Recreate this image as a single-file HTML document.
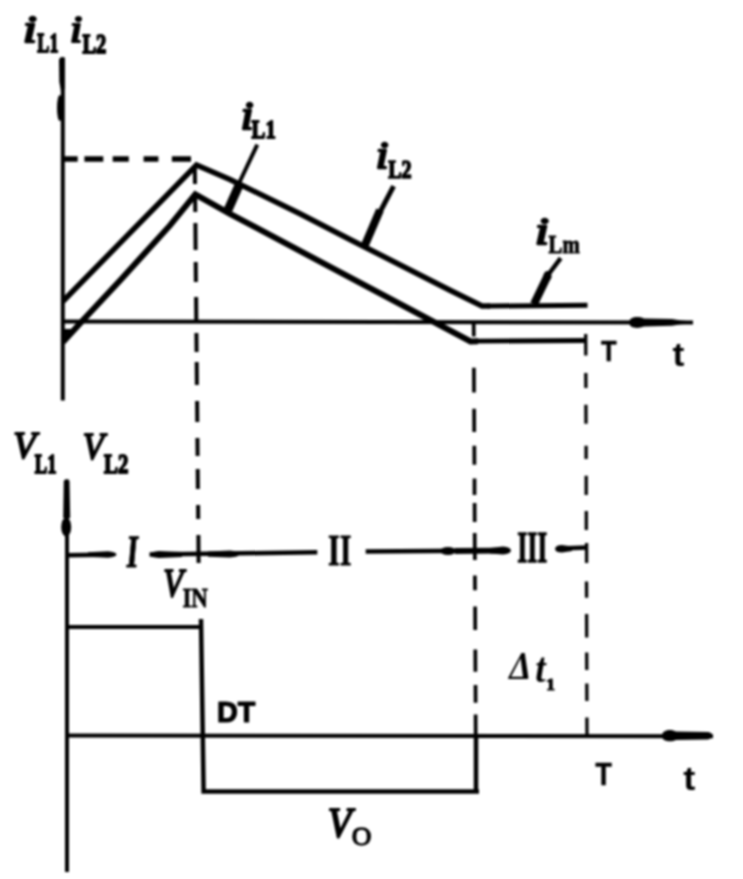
<!DOCTYPE html>
<html><head><meta charset="utf-8">
<style>
html,body{margin:0;padding:0;background:#fff;overflow:hidden;}
svg{display:block;filter:blur(0.8px);}
.s{font-family:"Liberation Serif",serif;}
.a{font-family:"Liberation Sans",sans-serif;}
</style></head>
<body>
<svg width="743" height="879" viewBox="0 0 743 879">
<rect width="743" height="879" fill="#fff"/>
<g stroke="#000" fill="none" stroke-linejoin="miter" stroke-linecap="butt">
  <!-- top axes -->
  <line x1="62.8" y1="57.5" x2="62.8" y2="400.5" stroke-width="4"/>
  <line x1="61" y1="321.5" x2="693" y2="322.5" stroke-width="4"/>
  <!-- dashed horizontal -->
  <path d="M64 159H77.7M84.4 159H103.3M112.7 159H128.8M143.6 159H158.4M171.9 159H191" stroke-width="5.5"/>
  <!-- iL2 upper -->
  <polyline points="62.7,301.5 196.5,165 230,179.5 300,213.8 350,239.5 450,290.3 482,306 490,305.9" stroke-width="5.5" stroke-linejoin="miter"/>
  <path d="M488 306L587.5 305.3" stroke-width="5"/>
  <!-- iL1 lower -->
  <polyline points="63,342 82,321.3 120.5,280 170,225.4 195.3,194.4 230,213.8 470.6,341.4 478,341.3" stroke-width="6" stroke-linejoin="miter"/>
  <path d="M476 341.2L586 340.5" stroke-width="4.8"/>
  <!-- pointers thin -->
  <line x1="257.3" y1="144.7" x2="239.6" y2="182" stroke-width="4"/>
  <line x1="393.6" y1="186.2" x2="380" y2="212" stroke-width="5"/>
  <line x1="560.7" y1="258.2" x2="548" y2="275" stroke-width="4.5"/>
  <!-- vertical dashed lines -->
  <path stroke-width="4" d="M194.8 168L195 184M195.1 197.0L195.3 212.0M195.4 223.0L195.6 250.0M195.7 262.0L195.9 282.0M196.1 297.0L196.3 320.0M196.4 333.0L196.6 352.0M196.7 362.0L196.9 385.0M197.1 401.0L197.3 422.0M197.4 438.0L197.6 456.0M197.7 469.0L197.9 489.0M198.1 505.0L198.2 519.0M198.4 535.0L198.6 563.0"/>
  <path stroke-width="3.7" d="M473.7 324.0L473.8 336.4M473.9 367.8L474.0 392.4M474.1 408.8L474.2 432.0M474.3 445.7L474.4 464.8M474.5 478.5L474.5 495.0M474.6 503.0L474.7 522.0M474.7 533.0L474.9 560.0M474.9 575.5L475.0 590.3M475.1 606.6L475.2 630.0M475.3 649.5L475.4 671.7M475.5 685.0L475.6 702.7M475.6 714.6L475.7 735.0"/>
  <path stroke-width="3.3" d="M585.7 334.0L585.8 355.5M585.8 373.0L585.9 388.0M585.9 404.7L586.0 423.8M586.1 445.7L586.1 459.0M586.2 475.7L586.2 495.0M586.3 511.0L586.3 530.0M586.6 543.0L586.6 563.0M586.5 581.4L586.6 597.7M586.6 614.0L586.7 637.6M586.7 652.4L586.8 670.0M586.8 683.5L586.9 701.0M586.9 717.5L587.0 735.0"/>
  <!-- bottom axes -->
  <line x1="67" y1="479.5" x2="67" y2="872" stroke-width="4"/>
  <line x1="66.5" y1="735.5" x2="713" y2="736.2" stroke-width="4"/>
  <!-- region line -->
  <path d="M67 555.3L100 554.8M149.6 554.6L317.3 552.3M365.7 551.5L500 550.6M560 548.5L587 547.5" stroke-width="4.5"/>
  <!-- VIN box -->
  <path d="M66.5 627H201.5" stroke-width="4"/>
  <path d="M201 619L203.6 791.5H479" stroke-width="4.5"/>
  <path d="M476 736V791.5" stroke-width="4.5"/>
</g>
<g fill="#000">
  <!-- axis tops -->
  <path d="M64 329 L71.5 329 L64 337 Z"/>
  <path d="M59 60 Q59.5 57 62.5 57 L64.8 58 L64.8 89 L61 91 L59.3 82 Z"/>
  <ellipse cx="59.8" cy="108" rx="2.8" ry="13"/>
  <path d="M63.8 481 Q64 479.5 66.5 479.5 Q69 479.5 69.5 481 L70.2 518 L63.2 518 Z"/>
  <ellipse cx="66.2" cy="527" rx="5" ry="9.5"/>
  <!-- axis arrowheads -->
  <path d="M629 322.5 C629.5 316.5 638 316 644 318.5 L672 319 L681 320.5 L693 321.5 L693 323.5 L681 324.2 L672 325.8 L644 326.5 C638 329 629.5 328.5 629 322.5 Z"/>
  <path d="M662 735 C663 729 672 729 676 731.5 L708 732 C714 733 714 738 708 739.5 L676 740 C672 742 663 742 662 737 Z"/>
  <!-- pointer thick parts -->
  <path d="M235.9 181.2 L244.1 184.8 L232.1 211.8 L223.9 208.2 Z"/>
  <path d="M376.3 208.4 L383.7 211.6 L368.7 246.6 L361.3 243.4 Z"/>
  <ellipse cx="547.5" cy="276" rx="4" ry="5"/>
  <path d="M544.4 273.3 L551.6 276.7 L537.6 305.7 L530.4 302.3 Z"/>
  <!-- region arrowheads -->
  <path d="M88 552.3 L108 551.3 Q116 552 116.5 554.5 Q116 557 108 557.7 L88 556.7 Z"/>
  <path d="M149.5 554.5 Q150.5 551.5 159 551 L182 552 L182 557 L159 558 Q150.5 557.5 149.5 554.5 Z"/>
  <path d="M208 551.5 L230 550.5 Q239 551 239.5 554 Q239 557 230 557.5 L208 556.7 Z"/>
  <ellipse cx="448" cy="551" rx="8" ry="4"/>
  <path d="M455 548 L500 547.8 L500 553.6 L455 554 Z"/>
  <path d="M490 548 L503 546.5 Q510.5 547 511 550.5 Q510.5 554 503 554.5 L490 553.5 Z"/>
  <path d="M555 549 Q555.5 545 562 545 L572 546.5 L572 551 L562 552.5 Q555.5 552.5 555 549Z"/>
</g>

<g fill="#000">
<text class="s" transform="matrix(0.4960 0 0 0.3803 23.11 41.86)" font-size="100" font-style="italic" stroke="#000" stroke-width="6" stroke-linejoin="round">i</text>
<text class="s" transform="matrix(0.1803 0 0 0.2630 37.36 52.15)" font-size="100" font-weight="bold" stroke="#000" stroke-width="7" stroke-linejoin="round">L1</text>
<text class="s" transform="matrix(0.4360 0 0 0.3746 70.09 42.18)" font-size="100" font-style="italic" stroke="#000" stroke-width="6" stroke-linejoin="round">i</text>
<text class="s" transform="matrix(0.2051 0 0 0.2658 82.41 52.54)" font-size="100" font-weight="bold" stroke="#000" stroke-width="7" stroke-linejoin="round">L2</text>
<text class="s" transform="matrix(0.4560 0 0 0.3986 240.73 128.80)" font-size="100" font-style="italic" stroke="#000" stroke-width="6" stroke-linejoin="round">i</text>
<text class="s" transform="matrix(0.2068 0 0 0.2575 251.61 138.37)" font-size="100" font-weight="bold" stroke="#000" stroke-width="7" stroke-linejoin="round">L1</text>
<text class="s" transform="matrix(0.4560 0 0 0.3789 375.73 168.16)" font-size="100" font-style="italic" stroke="#000" stroke-width="6" stroke-linejoin="round">i</text>
<text class="s" transform="matrix(0.2000 0 0 0.2438 388.20 177.72)" font-size="100" font-weight="bold" stroke="#000" stroke-width="7" stroke-linejoin="round">L2</text>
<text class="s" transform="matrix(0.5000 0 0 0.3859 535.00 243.94)" font-size="100" font-style="italic" stroke="#000" stroke-width="6" stroke-linejoin="round">i</text>
<text class="s" transform="matrix(0.2073 0 0 0.2449 548.60 252.71)" font-size="100" font-weight="bold" stroke="#000" stroke-width="4" stroke-linejoin="round">Lm</text>
<text class="s" transform="matrix(0.3686 0 0 0.3690 13.19 458.22)" font-size="100" font-style="italic" stroke="#000" stroke-width="5" stroke-linejoin="round">V</text>
<text class="s" transform="matrix(0.1863 0 0 0.2712 34.87 473.22)" font-size="100" font-weight="bold" stroke="#000" stroke-width="7" stroke-linejoin="round">L1</text>
<text class="s" transform="matrix(0.3457 0 0 0.3803 82.86 458.98)" font-size="100" font-style="italic" stroke="#000" stroke-width="5" stroke-linejoin="round">V</text>
<text class="s" transform="matrix(0.2085 0 0 0.2658 104.12 473.24)" font-size="100" font-weight="bold" stroke="#000" stroke-width="7" stroke-linejoin="round">L2</text>
<text class="s" transform="matrix(0.3229 0 0 0.4042 163.33 595.58)" font-size="100" font-style="italic" stroke="#000" stroke-width="5" stroke-linejoin="round">V</text>
<text class="s" transform="matrix(0.2294 0 0 0.2676 182.44 607.16)" font-size="100" font-weight="bold" stroke="#000" stroke-width="3" stroke-linejoin="round">IN</text>
<text class="s" transform="matrix(0.2977 0 0 0.4612 125.60 567.24) skewX(-8)" font-size="100" font-weight="bold" stroke="#000" stroke-width="2" stroke-linejoin="round">I</text>
<text class="s" transform="matrix(0.3014 0 0 0.4522 328.10 564.95)" font-size="100" font-weight="bold" stroke="#000" stroke-width="2" stroke-linejoin="round">II</text>
<text class="s" transform="matrix(0.2575 0 0 0.4353 517.18 561.63)" font-size="100" font-weight="bold" stroke="#000" stroke-width="3" stroke-linejoin="round">III</text>
<text class="s" transform="matrix(0.3526 0 0 0.3909 509.36 679.30)" font-size="100" font-style="italic" font-weight="bold">&#916;</text>
<text class="s" transform="matrix(0.3741 0 0 0.4232 535.18 682.00)" font-size="100" font-style="italic" font-weight="bold">t</text>
<text class="s" transform="matrix(0.1744 0 0 0.1764 546.33 690.17)" font-size="100" font-weight="bold" stroke="#000" stroke-width="7" stroke-linejoin="round">1</text>
<text class="s" transform="matrix(0.3871 0 0 0.4197 327.84 836.82)" font-size="100" font-style="italic" stroke="#000" stroke-width="5" stroke-linejoin="round">V</text>
<text class="s" transform="matrix(0.2725 0 0 0.2556 351.66 845.38)" font-size="100" stroke="#000" stroke-width="5" stroke-linejoin="round">O</text>
<text class="a" transform="matrix(0.2541 0 0 0.3028 601.10 360.80)" font-size="100" font-weight="bold" stroke="#000" stroke-width="2" stroke-linejoin="round">T</text>
<text class="a" transform="matrix(0.3581 0 0 0.3258 672.54 365.97)" font-size="100" font-weight="bold">t</text>
<text class="a" transform="matrix(0.2876 0 0 0.2986 217.06 721.70)" font-size="100" font-weight="bold" stroke="#000" stroke-width="4" stroke-linejoin="round">DT</text>
<text class="a" transform="matrix(0.2656 0 0 0.3085 595.50 784.59)" font-size="100" font-weight="bold" stroke="#000" stroke-width="2" stroke-linejoin="round">T</text>
<text class="a" transform="matrix(0.3645 0 0 0.3303 683.14 790.17)" font-size="100" font-weight="bold">t</text>
</g>
</svg>
</body></html>
